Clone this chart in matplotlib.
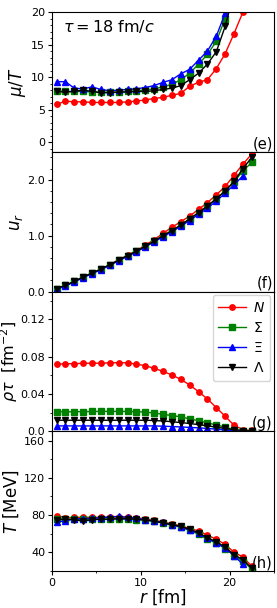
import numpy as np
import matplotlib
matplotlib.use('Agg')
import matplotlib.pyplot as plt
from matplotlib.ticker import MultipleLocator, FixedFormatter, FixedLocator

# radial grid (fm)
r_full = np.arange(0.5, 23.0, 1.0)   # 0.5 ... 22.5
r_xi = np.arange(0.5, 22.0, 1.0)     # 0.5 ... 21.5

# (e) mu/T
muT_N = [5.8, 6.3, 6.2, 6.2, 6.1, 6.1, 6.1, 6.1, 6.2, 6.3, 6.5, 6.7, 6.9, 7.2, 7.5, 8.6, 9.2, 9.6, 11.3, 13.6, 16.7, 20.0, 25.0]
muT_S = [7.9, 7.8, 7.8, 7.8, 7.7, 7.7, 7.7, 7.7, 7.8, 7.9, 8.0, 8.2, 8.5, 8.9, 9.6, 10.6, 12.0, 13.5, 15.5, 19.0, 23.0, 27.0, 31.0]
muT_X = [9.3, 9.3, 8.3, 8.2, 8.5, 8.1, 7.9, 8.0, 8.1, 8.2, 8.4, 8.7, 9.2, 9.6, 10.5, 11.2, 12.6, 14.0, 16.3, 19.8, 24.0, 28.0]
muT_L = [7.8, 7.7, 7.8, 8.0, 7.8, 7.6, 7.6, 7.7, 7.7, 7.8, 7.8, 7.9, 8.1, 8.3, 8.7, 9.6, 10.6, 12.0, 13.9, 17.8, 23.0, 27.0, 31.0]

# (f) u_r
ur_N = [0.05, 0.11, 0.18, 0.26, 0.33, 0.40, 0.48, 0.57, 0.65, 0.73, 0.83, 0.93, 1.04, 1.15, 1.25, 1.35, 1.47, 1.59, 1.73, 1.88, 2.08, 2.28, 2.46]
ur_S = [0.05, 0.11, 0.18, 0.26, 0.33, 0.40, 0.48, 0.56, 0.64, 0.72, 0.81, 0.90, 1.00, 1.09, 1.19, 1.30, 1.41, 1.53, 1.66, 1.80, 1.96, 2.16, 2.31]
ur_X = [0.04, 0.10, 0.17, 0.25, 0.32, 0.39, 0.47, 0.55, 0.63, 0.71, 0.80, 0.89, 0.98, 1.07, 1.17, 1.27, 1.38, 1.49, 1.62, 1.76, 1.91, 2.07]
ur_L = [0.05, 0.11, 0.18, 0.26, 0.33, 0.40, 0.48, 0.56, 0.64, 0.72, 0.81, 0.90, 1.00, 1.09, 1.19, 1.30, 1.41, 1.53, 1.66, 1.80, 1.97, 2.20, 2.40]

# (g) rho*tau (fm^-2)
rho_N = [0.0718, 0.0725, 0.0725, 0.0730, 0.0730, 0.0730, 0.0735, 0.0735, 0.0735, 0.0720, 0.0704, 0.0675, 0.0643, 0.0604, 0.0557, 0.0497, 0.0425, 0.0347, 0.0254, 0.0161, 0.0064, 0.0018, 0.0008]
rho_S = [0.0211, 0.0208, 0.0210, 0.0210, 0.0212, 0.0213, 0.0213, 0.0213, 0.0212, 0.0211, 0.0205, 0.0196, 0.0182, 0.0168, 0.0155, 0.0132, 0.0114, 0.0089, 0.0068, 0.0043, 0.0018, 0.0006, 0.0002]
rho_X = [0.0057, 0.0057, 0.0057, 0.0057, 0.0057, 0.0057, 0.0057, 0.0057, 0.0057, 0.0057, 0.0057, 0.0057, 0.0054, 0.0050, 0.0046, 0.0041, 0.0036, 0.0030, 0.0022, 0.0014, 0.0007, 0.0003]
rho_L = [0.0118, 0.0118, 0.0118, 0.0118, 0.0118, 0.0118, 0.0118, 0.0118, 0.0118, 0.0118, 0.0118, 0.0115, 0.0110, 0.0102, 0.0093, 0.0083, 0.0071, 0.0058, 0.0044, 0.0030, 0.0017, 0.0007, 0.0002]

# (h) T (MeV)
T_N = [79.5, 77.0, 77.5, 77.5, 77.5, 77.5, 77.5, 78.0, 77.5, 77.0, 76.0, 74.5, 72.5, 70.5, 68.5, 65.5, 63.0, 58.5, 54.0, 48.5, 40.0, 35.0, 25.0]
T_S = [76.0, 75.5, 75.5, 75.5, 75.5, 75.5, 76.0, 76.0, 75.5, 75.0, 74.5, 73.5, 71.5, 69.0, 67.0, 63.5, 59.5, 54.0, 50.0, 44.0, 36.5, 30.5, 22.0]
T_X = [73.0, 73.5, 76.0, 76.0, 76.5, 77.0, 78.0, 78.5, 77.5, 76.5, 75.0, 73.5, 72.0, 69.5, 67.5, 64.0, 60.5, 55.0, 50.5, 44.5, 36.5, 27.0]
T_L = [75.0, 75.5, 75.0, 73.5, 75.0, 75.5, 75.5, 76.0, 76.0, 75.5, 74.5, 73.5, 71.5, 69.5, 68.0, 64.5, 61.0, 55.5, 51.5, 45.5, 37.5, 32.0, 23.0]

labels = [r'$N$', r'$\Sigma$', r'$\Xi$', r'$\Lambda$']
colors = ['r', 'g', 'b', 'k']
markers = ['o', 's', '^', 'v']

panels = [
    (muT_N, muT_S, muT_X, muT_L),
    (ur_N, ur_S, ur_X, ur_L),
    (rho_N, rho_S, rho_X, rho_L),
    (T_N, T_S, T_X, T_L),
]

fig, axes = plt.subplots(4, 1, sharex=True, figsize=(2.77, 6.08), dpi=100)
fig.subplots_adjust(left=0.188, right=0.989, top=0.980, bottom=0.061, hspace=0)

for ax, series in zip(axes, panels):
    for y, lab, c, m in zip(series, labels, colors, markers):
        x = r_xi if len(y) == len(r_xi) else r_full
        ax.plot(x, y, color=c, marker=m, ms=3.9, lw=1.0, label=lab)
    ax.tick_params(which='major', labelsize=8, length=3, pad=2)
    ax.tick_params(which='minor', length=1.6)

ax1, ax2, ax3, ax4 = axes

ax1.set_ylim(-1.5, 20)
ax1.yaxis.set_major_locator(MultipleLocator(5))
ax1.yaxis.set_minor_locator(MultipleLocator(1))
ax1.set_ylabel(r'$\mu/T$', fontsize=12, labelpad=2)
ax1.text(0.05, 0.9, r'$\tau = 18$ fm/$c$', transform=ax1.transAxes, fontsize=11.5, va='center')
ax1.text(0.995, 0.005, '(e)', transform=ax1.transAxes, fontsize=10.5, ha='right', va='bottom')

ax2.set_ylim(0, 2.5)
ax2.yaxis.set_major_locator(FixedLocator([0, 1, 2]))
ax2.yaxis.set_major_formatter(FixedFormatter(['0.0', '1.0', '2.0']))
ax2.yaxis.set_minor_locator(MultipleLocator(0.2))
ax2.set_ylabel(r'$u_r$', fontsize=12, labelpad=2)
ax2.text(0.995, 0.005, '(f)', transform=ax2.transAxes, fontsize=10.5, ha='right', va='bottom')

ax3.set_ylim(0, 0.15)
ax3.yaxis.set_major_locator(FixedLocator([0, 0.04, 0.08, 0.12]))
ax3.yaxis.set_major_formatter(FixedFormatter(['0.0', '0.04', '0.08', '0.12']))
ax3.yaxis.set_minor_locator(MultipleLocator(0.02))
ax3.set_ylabel(r'$\rho\tau$  [fm$^{-2}$]', fontsize=11.5, labelpad=0)
ax3.legend(loc='upper right', fontsize=10, handlelength=2.0, handletextpad=0.5,
           borderaxespad=0.25, labelspacing=0.45)
ax3.text(0.995, 0.005, '(g)', transform=ax3.transAxes, fontsize=10.5, ha='right', va='bottom')

ax4.set_ylim(20, 170)
ax4.yaxis.set_major_locator(FixedLocator([40, 80, 120, 160]))
ax4.yaxis.set_minor_locator(MultipleLocator(20))
ax4.set_ylabel(r'$T$ [MeV]', fontsize=12, labelpad=2)
ax4.text(0.995, 0.005, '(h)', transform=ax4.transAxes, fontsize=10.5, ha='right', va='bottom')

ax4.set_xlim(0, 25)
ax4.xaxis.set_major_locator(MultipleLocator(10))
ax4.xaxis.set_minor_locator(MultipleLocator(5))
ax4.set_xlabel(r'$r$ [fm]', fontsize=12, labelpad=0)

fig.savefig('out.png', dpi=100)
